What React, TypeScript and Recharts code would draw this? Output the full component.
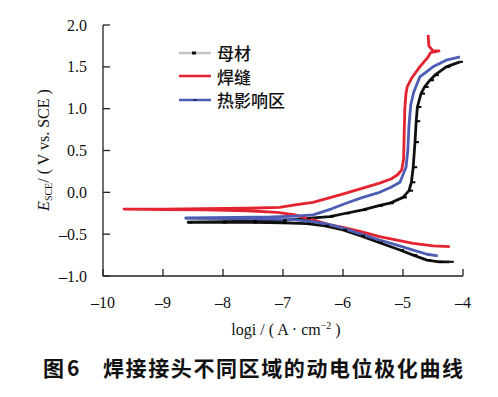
import { LineChart, Line, XAxis, YAxis, Legend } from "recharts";

// log i (A/cm2) and E (V vs SCE), cathodic end -> Ecorr -> anodic end
const baseLogI = [
  -4.22, -4.4, -4.6, -4.83, -5.05, -5.4, -5.7, -6.0, -6.3, -6.6, -7.0, -7.5, -8.0, -8.58,
  -8.58, -8.0, -7.5, -7.0, -6.6, -6.22, -5.95, -5.67, -5.4, -5.22, -5.0, -4.9, -4.86, -4.83,
  -4.8, -4.78, -4.76, -4.7, -4.64, -4.55, -4.47, -4.28, -4.05,
];
const baseE = [
  -0.83, -0.83, -0.81, -0.75, -0.69, -0.6, -0.52, -0.45, -0.4, -0.375, -0.365, -0.36, -0.36, -0.36,
  -0.355, -0.35, -0.345, -0.335, -0.31, -0.29, -0.25, -0.21, -0.16, -0.13, -0.06, 0.02, 0.12, 0.3,
  0.6, 0.85, 1.02, 1.18, 1.26, 1.34, 1.4, 1.5, 1.56,
];

const weldLogI = [
  -4.22, -4.5, -4.83, -5.1, -5.39, -5.7, -6.0, -6.22, -6.5, -6.8, -7.1, -7.6, -8.3, -9.0, -9.65,
  -9.65, -9.0, -8.3, -7.6, -7.06, -6.8, -6.5, -6.2, -5.95, -5.67, -5.39, -5.2, -5.09, -5.02,
  -4.99, -4.98, -4.97, -4.95, -4.93, -4.86, -4.72, -4.58, -4.54, -4.4, -4.5, -4.57, -4.58,
];
const weldE = [
  -0.65, -0.64, -0.61, -0.57, -0.53, -0.47, -0.42, -0.39, -0.33, -0.27, -0.24, -0.22, -0.21, -0.205, -0.2,
  -0.2, -0.2, -0.195, -0.19, -0.18, -0.15, -0.12, -0.06, -0.01, 0.05, 0.11, 0.16, 0.21, 0.27,
  0.4, 0.7, 1.0, 1.18, 1.26, 1.36, 1.5, 1.62, 1.67, 1.69, 1.69, 1.75, 1.88,
];

const hazLogI = [
  -4.42, -4.6, -4.83, -5.1, -5.39, -5.7, -5.95, -6.2, -6.5, -6.8, -7.2, -7.8, -8.62,
  -8.62, -7.8, -7.2, -6.8, -6.5, -6.2, -5.95, -5.67, -5.39, -5.2, -5.05, -4.95, -4.92, -4.9,
  -4.87, -4.82, -4.72, -4.5, -4.28, -4.05,
];
const hazE = [
  -0.76, -0.74, -0.69, -0.63, -0.57, -0.5, -0.44, -0.39, -0.35, -0.33, -0.32, -0.315, -0.31,
  -0.305, -0.3, -0.295, -0.285, -0.27, -0.2, -0.13, -0.06, 0.0, 0.06, 0.12, 0.3, 0.5, 0.8,
  1.05, 1.2, 1.38, 1.5, 1.58, 1.62,
];

const xTicks = [-10, -9, -8, -7, -6, -5, -4];
const yTicks = [-1.0, -0.5, 0.0, 0.5, 1.0, 1.5, 2.0];

const seriesNames = ["母材", "焊缝", "热影响区"];
const seriesColors = ["#111111", "#e3232f", "#4d5db3"];

const toPoints = (xs: number[], ys: number[]) => xs.map((x, i) => ({ x, y: ys[i] }));

const serif = "'Liberation Serif', 'Times New Roman', serif";
const cjk = "'Noto Sans CJK SC', sans-serif";

const fmt = (v: number, digits: number) => {
  const s = Math.abs(v).toFixed(digits);
  return v < 0 ? "\u2013" + s : s;
};

function XTick({ x, y, payload }: any) {
  return (
    <g>
      <line x1={x} y1={y} x2={x} y2={y - 7} stroke="#222" strokeWidth={1.3} />
      <text x={x} y={y + 32} textAnchor="middle" fontFamily={serif} fontSize={16} fill="#111">
        {fmt(payload.value, 0)}
      </text>
    </g>
  );
}

function YTick({ x, y, payload }: any) {
  return (
    <g>
      <line x1={x} y1={y} x2={x + 7} y2={y} stroke="#222" strokeWidth={1.3} />
      <text x={x - 16} y={y + 5.5} textAnchor="end" fontFamily={serif} fontSize={16} fill="#111">
        {fmt(payload.value, 1)}
      </text>
    </g>
  );
}

function YTitle() {
  return (
    <text
      x={49}
      y={150}
      transform="rotate(-90, 49, 150)"
      textAnchor="middle"
      fontFamily={serif}
      fontSize={16}
      fill="#111"
    >
      <tspan fontStyle="italic">E</tspan>
      <tspan fontSize={10} dy={3}>SCE</tspan>
      <tspan dy={-3}>/ ( V vs. SCE )</tspan>
    </text>
  );
}

function XTitle() {
  return (
    <g>
      <text x={286} y={335} textAnchor="middle" fontFamily={serif} fontSize={16} fill="#111">
        <tspan>logi / ( A · cm</tspan>
        <tspan fontSize={10} dy={-6}>−2</tspan>
        <tspan dy={6}> )</tspan>
      </text>
      <text y={376} fontFamily={cjk} fontWeight={700} fontSize={21} fill="#111">
        <tspan x={43}>图</tspan>
        <tspan x={67}>6</tspan>
        <tspan x={103} letterSpacing={1.6}>焊接接头不同区域的动电位极化曲线</tspan>
      </text>
    </g>
  );
}

function BaseDot({ cx, cy, index }: any) {
  if (cx == null || cy == null) return null;
  return <rect key={`d-${index}`} x={cx} y={cy - 1} width={4} height={2} fill="#000" />;
}

function LegendBox({ payload }: any) {
  const items = [...(payload || [])].sort(
    (a: any, b: any) => seriesNames.indexOf(a.value) - seriesNames.indexOf(b.value)
  );
  return (
    <div style={{ display: "flex", flexDirection: "column" }}>
      {items.map((entry: any) => {
        const i = seriesNames.indexOf(entry.value);
        return (
          <div key={entry.value} style={{ display: "flex", alignItems: "center", height: 23.5 }}>
            <svg width={36} height={10} style={{ marginRight: 4 }}>
              <line
                x1={2}
                y1={5}
                x2={34}
                y2={5}
                stroke={i === 0 ? "#c4c4c4" : entry.color}
                strokeWidth={2.5}
              />
              {i === 0 && <rect x={15} y={3.5} width={4} height={3} fill="#111" />}
              {i === 2 && <rect x={16} y={4} width={4} height={2} fill="#2a3580" />}
            </svg>
            <span style={{ fontFamily: cjk, fontSize: 17, fontWeight: 500, color: "#111", lineHeight: 1 }}>
              {entry.value}
            </span>
          </div>
        );
      })}
    </div>
  );
}

export default function App() {
  const base = toPoints(baseLogI, baseE);
  const weld = toPoints(weldLogI, weldE);
  const haz = toPoints(hazLogI, hazE);

  return (
    <div style={{ position: "absolute", left: 0, top: 0, width: 498, height: 397, background: "#fff" }}>
      <LineChart width={498} height={397} margin={{ top: 25, right: 35, bottom: 61, left: 0 }}>
        <XAxis
          type="number"
          dataKey="x"
          domain={[-10, -4]}
          ticks={xTicks}
          allowDataOverflow
          height={60}
          tickSize={0}
          tickMargin={0}
          tickLine={false}
          tick={<XTick />}
          axisLine={{ stroke: "#222", strokeWidth: 1.3 }}
          label={<XTitle />}
        />
        <YAxis
          type="number"
          domain={[-1, 2]}
          ticks={yTicks}
          allowDataOverflow
          width={103}
          tickSize={0}
          tickMargin={0}
          tickLine={false}
          tick={<YTick />}
          axisLine={{ stroke: "#222", strokeWidth: 1.3 }}
          label={<YTitle />}
        />
        <Legend
          layout="vertical"
          align="center"
          verticalAlign="middle"
          content={<LegendBox />}
          wrapperStyle={{ left: 177, top: 41, width: 140 }}
        />
        <Line
          data={base}
          dataKey="y"
          name={seriesNames[0]}
          stroke={seriesColors[0]}
          strokeWidth={2.8}
          dot={<BaseDot />}
          activeDot={false}
          isAnimationActive={false}
          strokeLinejoin="round"
        />
        <Line
          data={weld}
          dataKey="y"
          name={seriesNames[1]}
          stroke={seriesColors[1]}
          strokeWidth={2.8}
          dot={false}
          activeDot={false}
          isAnimationActive={false}
          strokeLinejoin="round"
        />
        <Line
          data={haz}
          dataKey="y"
          name={seriesNames[2]}
          stroke={seriesColors[2]}
          strokeWidth={2.8}
          dot={false}
          activeDot={false}
          isAnimationActive={false}
          strokeLinejoin="round"
        />
      </LineChart>
    </div>
  );
}
